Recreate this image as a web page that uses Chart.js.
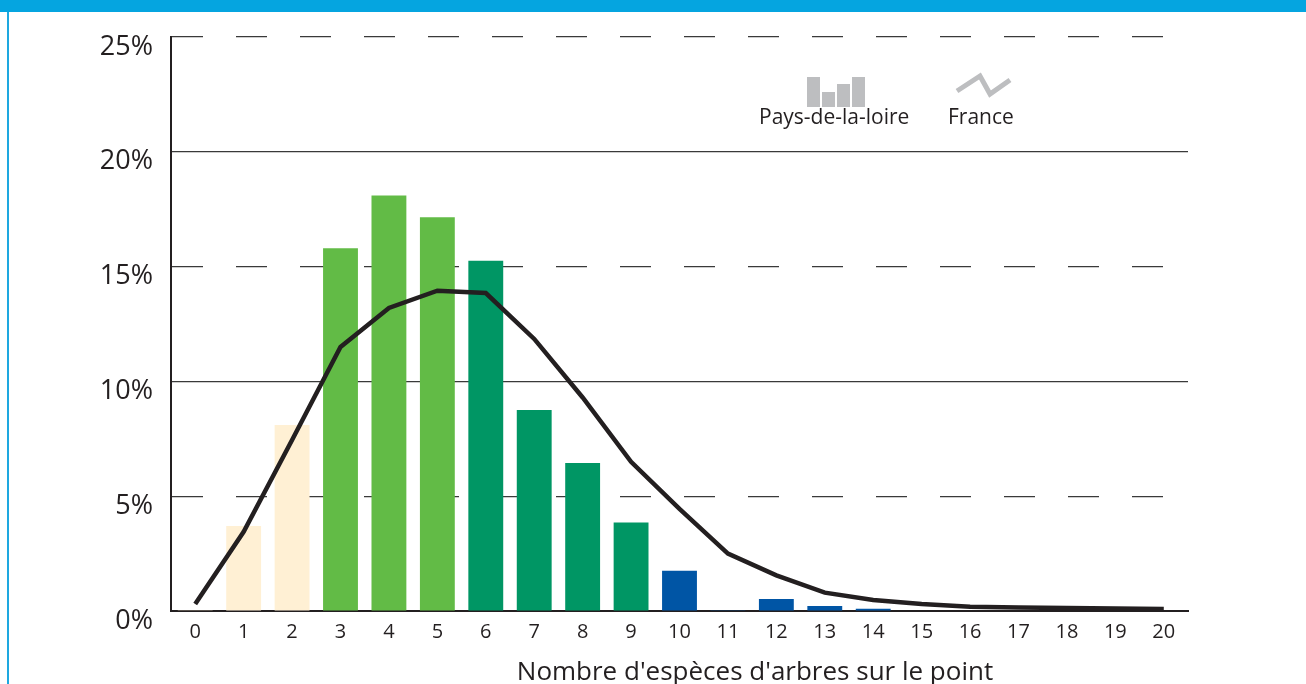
<!DOCTYPE html>
<html>
<head>
<meta charset="utf-8">
<script src="https://cdn.jsdelivr.net/npm/chart.js@4.4.0/dist/chart.umd.min.js"></script>
<style>
  html, body { margin: 0; padding: 0; background: #fff; }
  #wrap { position: relative; width: 1306px; height: 684px; overflow: hidden; }
  #topbar { position: absolute; left: 0; top: 0; width: 1306px; height: 12px; background: #05a5e0; }
  #leftline { position: absolute; left: 7px; top: 12px; width: 2px; height: 672px; background: #1ea8e0; }
  canvas { position: absolute; left: 0; top: 0; }
</style>
</head>
<body>
<div id="wrap">
  <div id="topbar"></div>
  <div id="leftline"></div>
  <canvas id="myChart" width="1306" height="684"></canvas>
</div>
<script>
const categories = ['0','1','2','3','4','5','6','7','8','9','10','11','12','13','14','15','16','17','18','19','20'];
const paysDeLaLoire = [0.03, 3.7, 8.1, 15.8, 18.1, 17.15, 15.25, 8.75, 6.45, 3.85, 1.75, 0.03, 0.52, 0.22, 0.1, 0.02, 0.02, 0.02, 0.02, 0.02, 0.02];
const france = [0.3, 3.45, 7.45, 11.5, 13.2, 13.95, 13.85, 11.85, 9.3, 6.5, 4.45, 2.5, 1.55, 0.8, 0.48, 0.3, 0.18, 0.15, 0.13, 0.11, 0.09];
const yTicks = [0, 5, 10, 15, 20, 25];
const xTitle = "Nombre d'espèces d'arbres sur le point";

const textColor = '#231f20';
const font = '"Open Sans", "Noto Sans", sans-serif';

// couleurs par groupe de classes
const barColors = categories.map((c, i) => {
  if (i <= 2) return '#fff0d4';
  if (i <= 5) return '#62bb46';
  if (i <= 9) return '#009664';
  return '#0055a5';
});

// légende et titre de l'axe (décalé à droite comme sur l'original)
const legendPlugin = {
  id: 'legendIcons',
  afterDraw(chart) {
    const c = chart.ctx;
    c.save();
    c.fillStyle = '#bdbec0';
    const heights = [30, 15, 23, 30];
    heights.forEach((h, i) => c.fillRect(807 + i * 15, 107 - h, 13, h));
    c.strokeStyle = '#bdbec0';
    c.lineWidth = 5;
    c.lineJoin = 'miter';
    c.beginPath();
    c.moveTo(957, 91);
    c.lineTo(980, 76);
    c.lineTo(990, 94);
    c.lineTo(1010, 80);
    c.stroke();
    c.fillStyle = textColor;
    c.font = '21px ' + font;
    c.textBaseline = 'alphabetic';
    c.textAlign = 'left';
    c.fillText('Pays-de-la-loire', 759, 124);
    c.fillText('France', 948, 124);
    c.font = '26px ' + font;
    c.textAlign = 'center';
    c.fillText(xTitle, 755, 680);
    c.restore();
  }
};

new Chart(document.getElementById('myChart'), {
  type: 'bar',
  data: {
    labels: categories,
    datasets: [{
      type: 'line',
      label: 'France',
      data: france,
      borderColor: textColor,
      borderWidth: 4.5,
      pointRadius: 0,
      tension: 0,
      borderJoinStyle: 'miter',
      order: 0
    }, {
      label: 'Pays-de-la-loire',
      data: paysDeLaLoire,
      backgroundColor: barColors,
      barPercentage: 0.72,
      categoryPercentage: 1,
      order: 1
    }]
  },
  options: {
    responsive: false,
    animation: false,
    layout: { padding: { top: 37, left: 0, right: 118, bottom: 0 } },
    plugins: { legend: { display: false }, tooltip: { enabled: false } },
    scales: {
      x: {
        offset: true,
        grid: { display: false, drawTicks: false },
        border: { display: true, color: textColor, width: 2 },
        ticks: { color: textColor, font: { family: font, size: 20 }, padding: 9 },
        afterFit: s => { s.height = 73; }
      },
      y: {
        min: 0,
        max: 25,
        afterBuildTicks: s => { s.ticks = yTicks.map(v => ({ value: v })); },
        grid: {
          drawTicks: false,
          color: ctx => ctx.tick && ctx.tick.value === 0 ? 'rgba(0,0,0,0)' : '#3a3a3a',
          lineWidth: 1.2
        },
        border: {
          display: true,
          color: textColor,
          width: 2,
          dash: ctx => (ctx.tick && ctx.tick.value % 10 === 5) ? [31, 33] : []
        },
        ticks: {
          color: textColor,
          font: { family: font, size: 27 },
          padding: 18,
          labelOffset: 10,
          callback: v => v + '%'
        },
        afterFit: s => { s.width = 171; }
      }
    }
  },
  plugins: [legendPlugin]
});
</script>
</body>
</html>
